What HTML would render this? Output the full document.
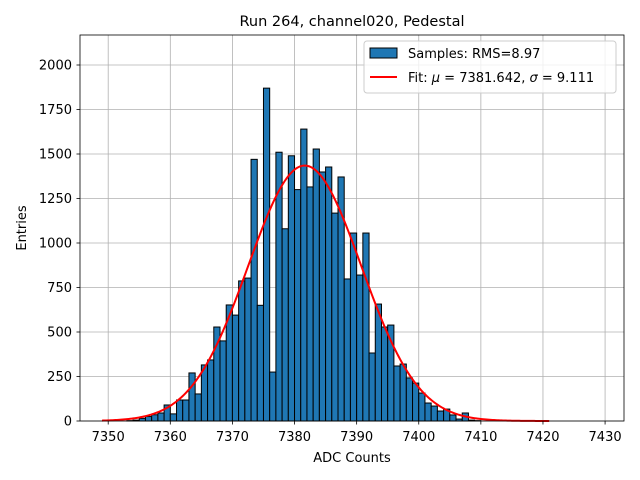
<!DOCTYPE html>
<html><head><meta charset="utf-8"><style>
body{margin:0;background:#fff}
svg{display:block;font-family:"DejaVu Sans","Liberation Sans",sans-serif}
</style></head><body>
<svg id="chart" width="640" height="480" xmlns="http://www.w3.org/2000/svg">
<rect width="640" height="480" fill="#fff"/>
<g id="grid"></g>
<g id="bars"></g>
<path id="fit" fill="none" stroke="#ff0000" stroke-width="2"/>
<rect x="80" y="35" width="544" height="386" fill="none" stroke="#000" stroke-width="0.8"/>
<g id="xt"></g>
<g id="yt"></g>
<text x="352" y="26" font-size="14.5" text-anchor="middle">Run 264, channel020, Pedestal</text>
<text x="352" y="462" font-size="13" text-anchor="middle">ADC Counts</text>
<text transform="translate(26,228) rotate(-90)" font-size="13" text-anchor="middle">Entries</text>
<g>
<rect x="364" y="41" width="252" height="52" rx="3" fill="#fff" fill-opacity="0.8" stroke="#ccc"/>
<rect x="370" y="48" width="27" height="10" fill="#1f77b4" stroke="#000"/>
<text x="408" y="58" font-size="13">Samples: RMS=8.97</text>
<line x1="370" y1="77" x2="397" y2="77" stroke="#ff0000" stroke-width="2"/>
<text x="408" y="82" font-size="13">Fit: <tspan font-style="italic">μ</tspan> = 7381.642, <tspan font-style="italic">σ</tspan> = 9.111</text>
</g>
</svg>
<script>
const binStarts=[7353,7354,7355,7356,7357,7358,7359,7360,7361,7362,7363,7364,7365,7366,7367,7368,7369,7370,7371,7372,7373,7374,7375,7376,7377,7378,7379,7380,7381,7382,7383,7384,7385,7386,7387,7388,7389,7390,7391,7392,7393,7394,7395,7396,7397,7398,7399,7400,7401,7402,7403,7404,7405,7406,7407,7408,7409];
const counts=[2,5,15,25,35,45,90,40,118,118,270,152,315,343,528,450,652,595,787,803,1470,650,1870,275,1510,1080,1490,1300,1640,1315,1528,1399,1427,1168,1371,798,1056,820,1056,382,657,528,539,309,320,242,213,157,101,84,56,67,34,11,45,5,2];
const xTicks=[7350,7360,7370,7380,7390,7400,7410,7420,7430];
const yTicks=[0,250,500,750,1000,1250,1500,1750,2000];
const fitMu=7381.642, fitSigma=9.111, fitAmp=1435, fitRange=[7349,7421];
const binWidth=1;
const NS="http://www.w3.org/2000/svg";
const X=v=>108.2+(v-7350)*6.211;
const Y=v=>421-v*(356/2000);
function mk(t,a,p){const e=document.createElementNS(NS,t);for(const k in a)e.setAttribute(k,a[k]);p.appendChild(e);return e;}
const grid=document.getElementById('grid'),xt=document.getElementById('xt'),yt=document.getElementById('yt'),bars=document.getElementById('bars');
xTicks.forEach(t=>{const x=X(t);
const g=mk('line',{x1:x,x2:x,y1:35,y2:421,stroke:'#b0b0b0','stroke-width':0.8},grid);


const k=mk('line',{x1:x,x2:x,y1:421,y2:424.5,stroke:'#000','stroke-width':0.8},xt);


const l=mk('text',{x:x,y:441,'font-size':13,'text-anchor':'middle'},xt);l.textContent=t;

});
yTicks.forEach(t=>{const y=Y(t);
const g=mk('line',{x1:80,x2:624,y1:y,y2:y,stroke:'#b0b0b0','stroke-width':0.8},grid);


const k=mk('line',{x1:76.5,x2:80,y1:y,y2:y,stroke:'#000','stroke-width':0.8},yt);


const l=mk('text',{x:72,y:y+4.5,'font-size':13,'text-anchor':'end'},yt);l.textContent=t;

});
binStarts.forEach((c,i)=>{const x0=X(c),x1=X(c+binWidth),h=counts[i]||0;
const r=mk('rect',{x:x0,y:Y(h),width:x1-x0,height:Y(0)-Y(h),fill:'#1f77b4',stroke:'#000','stroke-width':1},bars);

});
let d='';for(let i=0;i<=300;i++){const v=fitRange[0]+(fitRange[1]-fitRange[0])*i/300;
const f=fitAmp*Math.exp(-0.5*((v-fitMu)/fitSigma)**2);d+=(i?'L':'M')+X(v).toFixed(2)+','+Y(f).toFixed(2);}
document.getElementById('fit').setAttribute('d',d);
</script>
</body></html>
